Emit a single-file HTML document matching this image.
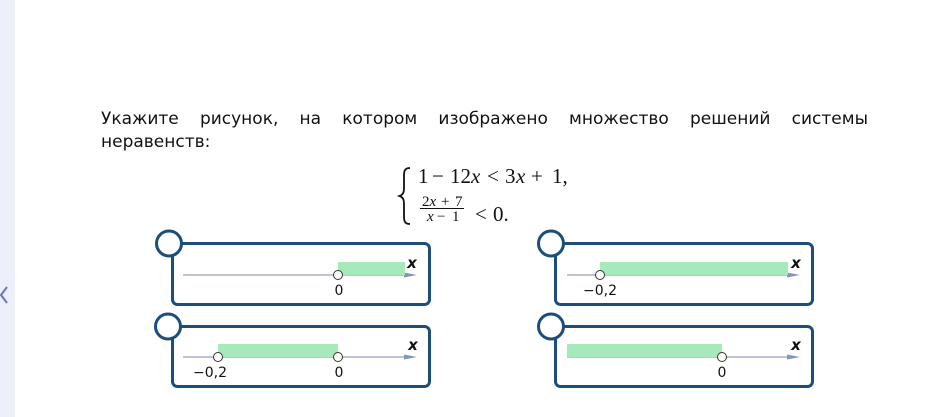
<!DOCTYPE html>
<html>
<head>
<meta charset="utf-8">
<style>
  html, body { margin:0; padding:0; }
  body { width:930px; height:417px; background:#fff; position:relative; overflow:hidden; }
  #strip { position:absolute; left:0; top:0; width:15px; height:417px; background:#eef0f9; }
  #q { position:absolute; left:101px; top:108px; width:767px; font-family:"DejaVu Sans","Liberation Sans",sans-serif; font-size:17px; line-height:23px; color:#111; text-align:justify; text-align-last:left; }
  svg { position:absolute; left:0; top:0; }
</style>
</head>
<body>
<div id="strip"></div>
<div id="q">Укажите рисунок, на котором изображено множество решений системы неравенств:</div>
<svg width="930" height="417" viewBox="0 0 930 417" xmlns="http://www.w3.org/2000/svg">
  <!-- chevron -->
  <polyline points="7,287 1,295 7,303" fill="none" stroke="#6b73c6" stroke-width="2"/>

  <!-- brace -->
  <path d="M410,168 C404.5,168 404,171 404,176 L404,189 C404,193 402.5,195 399.5,196 C402.5,197 404,199 404,203 L404,216 C404,221 404.5,224 410,224" fill="none" stroke="#111" stroke-width="1.8"/>

  <g font-family="Liberation Serif, serif" fill="#111">
    <text x="418" y="183" font-size="21">1</text>
    <text x="432" y="183" font-size="21">−</text>
    <text x="450" y="183" font-size="21">12</text>
    <text x="471" y="183" font-size="21" font-style="italic">x</text>
    <text x="487" y="183" font-size="21">&lt;</text>
    <text x="505" y="183" font-size="21">3</text>
    <text x="516" y="183" font-size="21" font-style="italic">x</text>
    <text x="531" y="183" font-size="21">+</text>
    <text x="552" y="183" font-size="21">1,</text>

    <text x="422" y="206" font-size="15">2</text>
    <text x="429.5" y="206" font-size="15" font-style="italic">x</text>
    <text x="441" y="206" font-size="15">+</text>
    <text x="455" y="206" font-size="15">7</text>
    <line x1="420" y1="208.5" x2="464" y2="208.5" stroke="#111" stroke-width="1"/>
    <text x="427" y="221" font-size="15" font-style="italic">x</text>
    <text x="437" y="221" font-size="15">−</text>
    <text x="452" y="221" font-size="15">1</text>
    <text x="475" y="221" font-size="21">&lt;</text>
    <text x="493" y="221" font-size="21">0.</text>
  </g>

  <!-- Box 1 -->
  <rect x="172.5" y="243.5" width="257" height="61" rx="5" fill="#fff" stroke="#1b4e7a" stroke-width="3"/>
  <circle cx="169" cy="243.5" r="12.5" fill="#fff" stroke="#1b4e7a" stroke-width="3"/>
  <line x1="183" y1="275" x2="408" y2="275" stroke="#aab1c6" stroke-width="1.5"/>
  <polygon points="404,272.5 417,275 404,277.5" fill="#8494c0"/>
  <rect x="338" y="262" width="67" height="13" fill="#a6e9bb"/>
  <circle cx="338" cy="275" r="4.5" fill="#fff" stroke="#333" stroke-width="1"/>
  <text x="339" y="295" font-family="DejaVu Sans, sans-serif" font-size="14" text-anchor="middle" fill="#111">0</text>
  <text x="412" y="268" font-family="DejaVu Sans, sans-serif" font-size="15" font-weight="bold" font-style="italic" text-anchor="middle" fill="#111">x</text>

  <!-- Box 2 -->
  <rect x="555.5" y="243.5" width="257" height="61" rx="5" fill="#fff" stroke="#1b4e7a" stroke-width="3"/>
  <circle cx="551" cy="243.5" r="12.5" fill="#fff" stroke="#1b4e7a" stroke-width="3"/>
  <line x1="567" y1="275" x2="791" y2="275" stroke="#aab1c6" stroke-width="1.5"/>
  <polygon points="787,272.5 800,275 787,277.5" fill="#8494c0"/>
  <rect x="600" y="262" width="188" height="13" fill="#a6e9bb"/>
  <circle cx="600" cy="275" r="4.5" fill="#fff" stroke="#333" stroke-width="1"/>
  <text x="600" y="295" font-family="DejaVu Sans, sans-serif" font-size="14" text-anchor="middle" fill="#111">−0,2</text>
  <text x="796" y="268" font-family="DejaVu Sans, sans-serif" font-size="15" font-weight="bold" font-style="italic" text-anchor="middle" fill="#111">x</text>

  <!-- Box 3 -->
  <rect x="172.5" y="326.5" width="257" height="60" rx="5" fill="#fff" stroke="#1b4e7a" stroke-width="3"/>
  <circle cx="168" cy="326.5" r="12.5" fill="#fff" stroke="#1b4e7a" stroke-width="3"/>
  <line x1="183" y1="357" x2="408" y2="357" stroke="#aab1c6" stroke-width="1.5"/>
  <polygon points="404,354.5 417,357 404,359.5" fill="#8494c0"/>
  <rect x="218" y="344" width="120" height="13" fill="#a6e9bb"/>
  <circle cx="218" cy="357" r="4.5" fill="#fff" stroke="#333" stroke-width="1"/>
  <circle cx="338" cy="357" r="4.5" fill="#fff" stroke="#333" stroke-width="1"/>
  <text x="210" y="377" font-family="DejaVu Sans, sans-serif" font-size="14" text-anchor="middle" fill="#111">−0,2</text>
  <text x="339" y="377" font-family="DejaVu Sans, sans-serif" font-size="14" text-anchor="middle" fill="#111">0</text>
  <text x="413" y="350" font-family="DejaVu Sans, sans-serif" font-size="15" font-weight="bold" font-style="italic" text-anchor="middle" fill="#111">x</text>

  <!-- Box 4 -->
  <rect x="555.5" y="326.5" width="257" height="60" rx="5" fill="#fff" stroke="#1b4e7a" stroke-width="3"/>
  <circle cx="551" cy="326.5" r="12.5" fill="#fff" stroke="#1b4e7a" stroke-width="3"/>
  <line x1="567" y1="357" x2="791" y2="357" stroke="#aab1c6" stroke-width="1.5"/>
  <polygon points="787,354.5 800,357 787,359.5" fill="#8494c0"/>
  <rect x="567" y="344" width="155" height="13" fill="#a6e9bb"/>
  <circle cx="722" cy="357" r="4.5" fill="#fff" stroke="#333" stroke-width="1"/>
  <text x="722" y="377" font-family="DejaVu Sans, sans-serif" font-size="14" text-anchor="middle" fill="#111">0</text>
  <text x="796" y="350" font-family="DejaVu Sans, sans-serif" font-size="15" font-weight="bold" font-style="italic" text-anchor="middle" fill="#111">x</text>
</svg>
</body>
</html>
